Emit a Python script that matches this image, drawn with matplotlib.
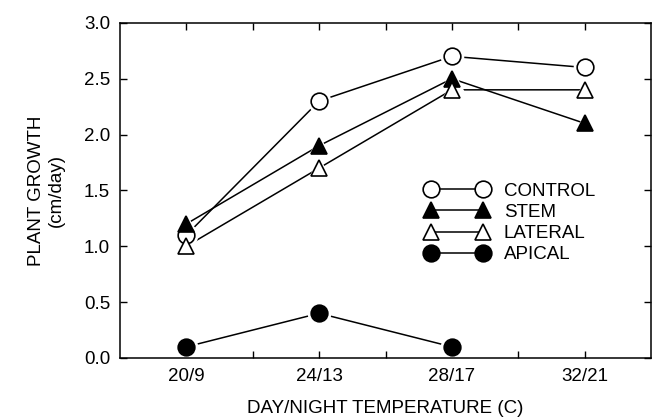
import numpy as np
import matplotlib
matplotlib.use('Agg')
import matplotlib.pyplot as plt
import matplotlib.lines as mlines
from matplotlib.ticker import FixedLocator

plt.rcParams['font.family'] = ['Liberation Sans', 'DejaVu Sans']

temps = ['20/9', '24/13', '28/17', '32/21']
control = [1.1, 2.3, 2.7, 2.6]
stem = [1.2, 1.9, 2.5, 2.1]
lateral = [1.0, 1.7, 2.4, 2.4]
apical = [0.1, 0.4, 0.1]

fig = plt.figure(figsize=(6.61, 4.19), dpi=100)
ax = fig.add_axes([0.1815, 0.1456, 0.8035, 0.8])

x = np.arange(len(temps))
series = [
    (control, 'o', 'white', 'CONTROL'),
    (stem, '^', 'black', 'STEM'),
    (lateral, '^', 'white', 'LATERAL'),
    (apical, 'o', 'black', 'APICAL'),
]
# lines first, then a white halo so lines stop short of the markers
for vals, m, fc, lab in series:
    ax.plot(x[:len(vals)], vals, '-', color='black', lw=1.1, zorder=1)
for vals, m, fc, lab in series:
    ax.plot(x[:len(vals)], vals, ls='none', marker=m, ms=17,
            mfc='white', mec='none', zorder=2)
for vals, m, fc, lab in series:
    ax.plot(x[:len(vals)], vals, ls='none', marker=m, ms=12,
            mfc=fc, mec='black', mew=1.2, zorder=3)

ax.set_xlim(-0.5, 3.5)
ax.set_ylim(0, 3.0)
ax.set_xticks(x)
ax.set_xticklabels(temps)
ax.xaxis.set_minor_locator(FixedLocator([0.5, 1.5, 2.5]))
ax.set_yticks(np.arange(0, 3.01, 0.5))
ax.set_yticklabels([f'{v:.1f}' for v in np.arange(0, 3.01, 0.5)])
ax.tick_params(which='both', direction='in', top=True, right=True,
               labelsize=13.5, length=5, width=1)
ax.tick_params(axis='x', pad=7)
ax.tick_params(axis='y', pad=7)
for s in ax.spines.values():
    s.set_linewidth(1.1)

ax.set_xlabel('DAY/NIGHT TEMPERATURE (C)', fontsize=13.5, labelpad=11)
ax.set_ylabel('PLANT GROWTH\n(cm/day)', fontsize=13.5, labelpad=14)

# legend: marker at both ends with a line between
leg_handles = []
for vals, m, fc, lab in series:
    leg_handles.append(mlines.Line2D([], [], color='black', lw=1.1, marker=m,
                                     ms=12, mfc=fc, mec='black', mew=1.2))
ax.legend(leg_handles, [s[3] for s in series], loc='center left',
          bbox_to_anchor=(0.543, 0.403), frameon=False, numpoints=2,
          handlelength=3.4, fontsize=13.5, labelspacing=0.22,
          handletextpad=0.8)

fig.savefig('out.png', dpi=100)
